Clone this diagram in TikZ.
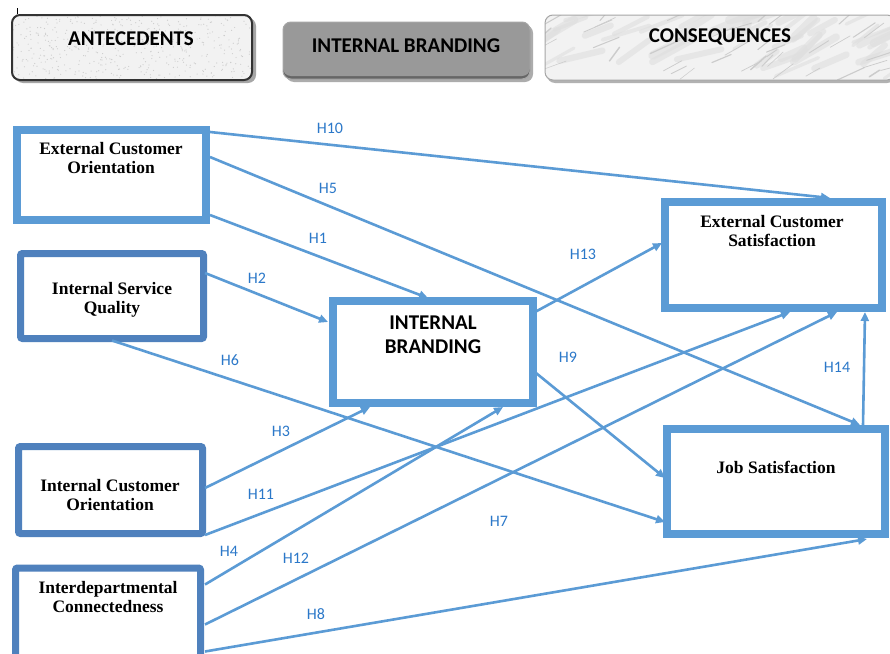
\documentclass[tikz,border=0pt]{standalone}
\usepackage{fontspec}
\setmainfont{Liberation Serif}
\newfontfamily\calfont{Carlito}
\usetikzlibrary{arrows.meta,calc}
\definecolor{lblue}{HTML}{5B9BD5}
\definecolor{dblue}{HTML}{4F81BD}
\definecolor{labc}{HTML}{2B78C9}
\begin{document}
\begin{tikzpicture}[x=1pt,y=-1pt,
  boxa/.style={draw=lblue,line width=8pt,inner sep=0pt,outer sep=0pt,rectangle},
  boxb/.style={draw=dblue,line width=7pt,inner sep=0pt,outer sep=0pt,rectangle,rounded corners=2pt},
  btxt/.style={font=\fontsize{17.5}{18.5}\selectfont\bfseries,align=center,inner sep=0pt},
  htxt/.style={font=\calfont\fontsize{21}{24}\selectfont\bfseries,inner sep=0pt},
  arr/.style={draw=lblue,line width=2.6pt,-{Triangle[length=9pt,width=8pt]}},
  hlab/.style={font=\calfont\fontsize{16}{18}\selectfont,text=labc,inner sep=0pt}]
\clip (0,0) rectangle (890,653);
\fill[white] (0,0) rectangle (890,653);
% header boxes
\draw[black,line width=0.8pt] (17,8) -- (17,14);
\fill[gray!70,rounded corners=8pt] (15,18) rectangle (256,83);
\fill[gray!10,rounded corners=8pt] (12,15) rectangle (252,80);
\begin{scope}
\clip[rounded corners=8pt] (12,15) rectangle (252,80);
\pgfmathsetseed{7}
\foreach \i in {1,...,500}{\fill[gray!40] ({12+240*rnd},{15+65*rnd}) circle (0.6pt);}
\end{scope}
\draw[black!80,line width=2pt,rounded corners=8pt] (12,15) rectangle (252,80);
\node[htxt] (ant) at (131,39) {ANTECEDENTS};
\fill[gray!65,rounded corners=8pt] (286,25) rectangle (533,82);
\fill[gray!80!black,rounded corners=8pt] (283,22) rectangle (530,79);
\fill[gray!80,rounded corners=8pt] (283,22) rectangle (530,76);
\draw[gray!70,line width=1pt,rounded corners=8pt] (283,22) rectangle (530,79);
\node[htxt] (ibh) at (406,46) {INTERNAL BRANDING};
\fill[gray!60,rounded corners=8pt] (547,18) rectangle (895,83);
\fill[gray!10,rounded corners=8pt] (545,15) rectangle (895,80);
\begin{scope}
\clip[rounded corners=8pt] (545,15) rectangle (895,80);
\pgfmathsetseed{11}
\foreach \i in {1,...,45}{\pgfmathsetmacro{\lw}{3+6*rnd}\draw[gray!25,opacity=0.6,line width=\lw pt,line cap=round] ({530+360*rnd},{20+60*rnd}) -- ++({18+30*rnd},{-10-15*rnd});}
\foreach \i in {1,...,40}{\pgfmathsetmacro{\lw}{0.5+1*rnd}\draw[gray!40,line width=\lw pt,line cap=round] ({530+360*rnd},{20+60*rnd}) -- ++({10+20*rnd},{-6-10*rnd});}
\end{scope}
\draw[gray!70,line width=1pt,rounded corners=8pt] (545,15) rectangle (895,80);
\node[htxt] (cons) at (720,37) {CONSEQUENCES};
% main boxes
\node[boxa,minimum width=189pt,minimum height=90pt] (eco) at (111.5,175) {};
\node[btxt] (ecot) at (111,158) {External Customer\\Orientation};
\node[boxb,minimum width=183pt,minimum height=85pt] (isq) at (112,296) {};
\node[btxt] (isqt) at (112,300) {Internal Service\\Quality};
\node[boxb,minimum width=184pt,minimum height=87pt] (ico) at (110.5,490) {};
\node[btxt] (icot) at (110,495) {Internal Customer\\Orientation};
\node[boxb,minimum width=185pt,minimum height=92pt] (ic) at (108,614) {};
\node[btxt] (ict) at (108,597) {Interdepartmental\\Connectedness};
\node[boxa,minimum width=200pt,minimum height=102pt] (ib) at (433,352) {};
\node[font=\calfont\fontsize{21}{24}\selectfont\bfseries,align=center,inner sep=0pt] (ibt) at (433,335) {INTERNAL\\BRANDING};
\node[boxa,minimum width=217pt,minimum height=106pt] (ecs) at (773.5,255) {};
\node[btxt] (ecst) at (772,231) {External Customer\\Satisfaction};
\node[boxa,minimum width=218pt,minimum height=105pt] (js) at (776,481.5) {};
\node[btxt] (jst) at (776,467) {Job Satisfaction};
% arrows
\draw[arr] ([xshift=4pt,yshift=-2pt]eco.north east) -- ([xshift=165pt,yshift=4pt]ecs.north west);
\draw[arr] ([xshift=4pt,yshift=-27pt]eco.north east) -- ([xshift=193pt,yshift=4pt]js.north west);
\draw[arr] ([xshift=4pt,yshift=-85pt]eco.north east) -- ([xshift=95pt,yshift=3pt]ib.north west);
\draw[arr] ([xshift=1.5pt,yshift=-19.5pt]isq.north east) -- ([xshift=-5pt,yshift=-21pt]ib.north west);
\draw[arr] ([yshift=-2pt]isq.south) -- ([xshift=-2pt,yshift=12pt]js.south west);
\draw[arr] ([xshift=2.5pt,yshift=-41.5pt]ico.north east) -- ([xshift=37pt,yshift=-4pt]ib.south west);
\draw[arr] ([xshift=2.5pt,yshift=-1.5pt]ico.south east) -- ([xshift=125pt,yshift=-4pt]ecs.south west);
\draw[arr] ([xshift=4.5pt,yshift=-16.5pt]ic.north east) -- ([xshift=170pt,yshift=-4pt]ib.south west);
\draw[arr] ([xshift=4.5pt,yshift=-56.5pt]ic.north east) -- ([xshift=172pt,yshift=-4pt]ecs.south west);
\draw[arr] ([xshift=4.5pt,yshift=-83.5pt]ic.north east) -- ([xshift=200pt,yshift=-5pt]js.south west);
\draw[arr] ([xshift=2pt,yshift=-11pt]ib.north east) -- ([xshift=-3pt,yshift=-41pt]ecs.north west);
\draw[arr] ([xshift=3pt,yshift=-72pt]ib.north east) -- ([xshift=-2pt,yshift=56pt]js.south west);
\draw[arr] ([xshift=196pt,yshift=4pt]js.north west) -- ([xshift=200pt,yshift=-4pt]ecs.south west);
% labels
\node[hlab] (h10) at (330,128) {H10};
\node[hlab] (h5) at (328,188) {H5};
\node[hlab] (h1) at (318,238) {H1};
\node[hlab] (h2) at (257,278) {H2};
\node[hlab] (h6) at (230,360) {H6};
\node[hlab] (h3) at (281,431) {H3};
\node[hlab] (h11) at (261,494) {H11};
\node[hlab] (h4) at (229,551) {H4};
\node[hlab] (h12) at (296,558) {H12};
\node[hlab] (h8) at (316,614) {H8};
\node[hlab] (h13) at (583,254) {H13};
\node[hlab] (h9) at (568,357) {H9};
\node[hlab] (h7) at (499,521) {H7};
\node[hlab] (h14) at (837,367) {H14};
\end{tikzpicture}
\end{document}
